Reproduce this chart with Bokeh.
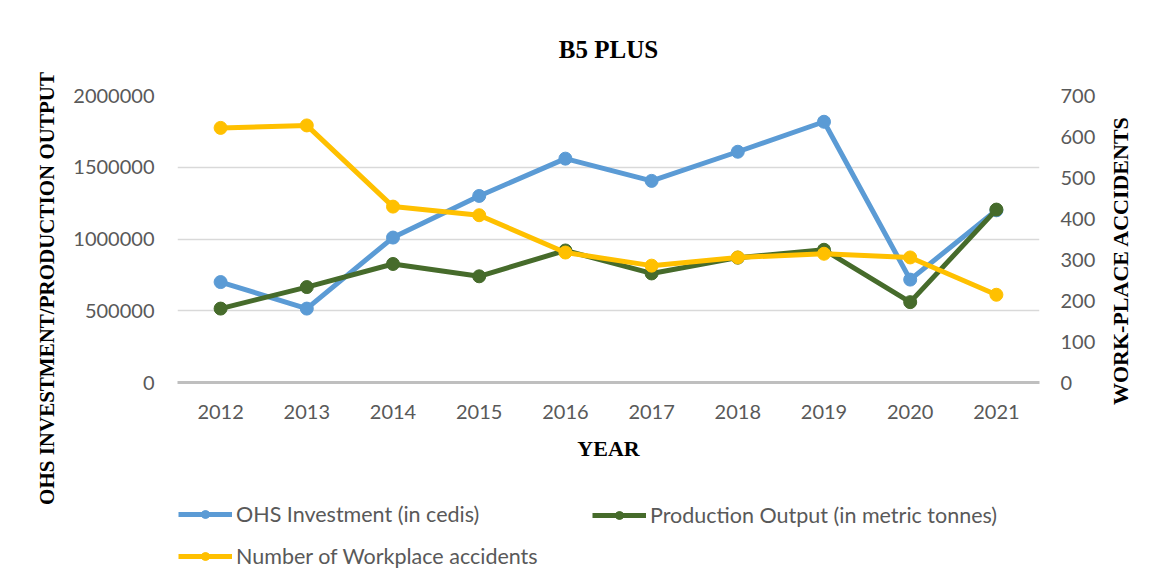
from bokeh.plotting import figure
from bokeh.layouts import row, column
from bokeh.models import (Range1d, LinearAxis, FixedTicker, NumeralTickFormatter, Legend,
                          LegendItem, FactorRange, ColumnDataSource, Label)
from bokeh.embed import file_html
from bokeh.resources import INLINE

years = ["2012", "2013", "2014", "2015", "2016", "2017", "2018", "2019", "2020", "2021"]
ohs_investment = [700000, 515000, 1010000, 1300000, 1560000, 1405000, 1608000, 1817000, 717000, 1200000]
production_output = [515000, 665000, 826000, 740000, 920000, 760000, 870000, 925000, 560000, 1205000]
workplace_accidents = [621, 627, 429, 408, 317, 285, 305, 314, 305, 214]
left_ticks = [0, 500000, 1000000, 1500000, 2000000]
right_ticks = [0, 100, 200, 300, 400, 500, 600, 700]
series_names = ["OHS Investment (in cedis)", "Production Output (in metric tonnes)",
                "Number of Workplace accidents"]

BLUE = "#5B9BD5"
GREEN = "#466B2B"
YELLOW = "#FFC000"
GRAY_TXT = "#595959"
SERIF = "Liberation Serif"
SANS = "Lato"


def blank(width, height, **kw):
    f = figure(width=width, height=height, x_range=Range1d(0, 1), y_range=Range1d(0, 1),
               output_backend="svg", toolbar_location=None, x_axis_location=None,
               y_axis_location=None, min_border=0, **kw)
    f.outline_line_color = None
    f.grid.grid_line_color = None
    return f


src = ColumnDataSource(dict(year=years, ohs=ohs_investment, prod=production_output, acc=workplace_accidents))

p = figure(width=1044, height=470, x_range=FactorRange(factors=years, range_padding=0),
           y_range=Range1d(0, 2000000), output_backend="svg", toolbar_location=None,
           min_border_left=115, min_border_right=67, min_border_top=94, min_border_bottom=88,
           title="B5 PLUS")
p.extra_y_ranges = {"acc": Range1d(0, 700)}
p.outline_line_color = None

p.title.text_font = SERIF
p.title.text_font_style = "bold"
p.title.text_font_size = "25px"
p.title.align = "center"
p.title.text_color = "black"
p.title.standoff = 66

# grid
p.xgrid.grid_line_color = None
p.ygrid.ticker = FixedTicker(ticks=left_ticks)
p.ygrid.grid_line_color = "#d9d9d9"
p.ygrid.grid_line_width = 1.5

# x axis
xa = p.xaxis[0]
xa.axis_line_color = "#bfbfbf"
xa.axis_line_width = 3
xa.major_tick_line_color = None
xa.minor_tick_line_color = None
xa.major_label_text_font = SANS
xa.major_label_text_font_size = "20px"
xa.major_label_text_color = GRAY_TXT
xa.major_label_standoff = 16
xa.axis_label = "YEAR"
xa.axis_label_text_font = SERIF
xa.axis_label_text_font_style = "bold"
xa.axis_label_text_font_size = "22px"
xa.axis_label_text_color = "black"
xa.axis_label_standoff = 14

# left axis
ya = p.yaxis[0]
ya.ticker = FixedTicker(ticks=left_ticks)
ya.formatter = NumeralTickFormatter(format="0")
ya.axis_line_color = None
ya.major_tick_line_color = None
ya.minor_tick_line_color = None
ya.major_label_text_font = SANS
ya.major_label_text_font_size = "20px"
ya.major_label_text_color = GRAY_TXT
ya.major_label_standoff = 17

# right axis
ra = LinearAxis(y_range_name="acc", ticker=FixedTicker(ticks=right_ticks))
ra.axis_line_color = None
ra.major_tick_line_color = None
ra.minor_tick_line_color = None
ra.major_label_text_font = SANS
ra.major_label_text_font_size = "20px"
ra.major_label_text_color = GRAY_TXT
ra.major_label_standoff = 15
p.add_layout(ra, "right")

# series
l1 = p.line("year", "ohs", source=src, line_width=5, color=BLUE)
s1 = p.scatter("year", "ohs", source=src, size=13, color=BLUE)
l2 = p.line("year", "prod", source=src, line_width=5, color=GREEN)
s2 = p.scatter("year", "prod", source=src, size=13, color=GREEN)
l3 = p.line("year", "acc", source=src, y_range_name="acc", line_width=5, color=YELLOW)
s3 = p.scatter("year", "acc", source=src, y_range_name="acc", size=13, color=YELLOW)

# left axis title panel
pl = blank(62, 584)
pl.add_layout(Label(x=46, y=296, x_units="screen", y_units="screen",
                    text="OHS INVESTMENT/PRODUCTION OUTPUT", angle=90, angle_units="deg",
                    text_align="center", text_baseline="middle", text_font=SERIF,
                    text_font_style="bold", text_font_size="21px", text_color="black"))

# right axis title panel
pr = blank(34, 584)
pr.add_layout(Label(x=14, y=324, x_units="screen", y_units="screen",
                    text="WORK-PLACE ACCIDENTS", angle=90, angle_units="deg",
                    text_align="center", text_baseline="middle", text_font=SERIF,
                    text_font_style="bold", text_font_size="22px", text_color="black"))

# legend panel (legend proxies carry no visible data); frame aligned with the chart frame
pg = blank(1044, 114)
pg.min_border_left = 115
pg.min_border_right = 67
nan = float("nan")
colors = [BLUE, GREEN, YELLOW]
items = []
for name, c in zip(series_names, colors):
    proxy = ColumnDataSource(dict(x=[nan], y=[nan]))
    lr = pg.line("x", "y", source=proxy, line_width=5, color=c)
    sr = pg.scatter("x", "y", source=proxy, size=12, color=c)
    items.append(LegendItem(label=name, renderers=[lr, sr]))


def style_legend(lg):
    lg.label_text_font = SANS
    lg.label_text_font_size = "21.5px"
    lg.label_text_color = GRAY_TXT
    lg.glyph_width = 54
    lg.glyph_height = 20
    lg.label_height = 20
    lg.label_standoff = 4
    lg.spacing = 16
    lg.padding = 0
    lg.margin = 0
    lg.border_line_color = None
    lg.background_fill_alpha = 0


legend_a = Legend(items=[items[0], items[2]], location=(1, 15))
legend_b = Legend(items=[items[1]], location=(415, 56))
style_legend(legend_a)
style_legend(legend_b)
pg.add_layout(legend_a, "center")
pg.add_layout(legend_b, "center")

layout = row(pl, column(p, pg), pr)
open("out.html", "w").write(file_html(layout, INLINE))
